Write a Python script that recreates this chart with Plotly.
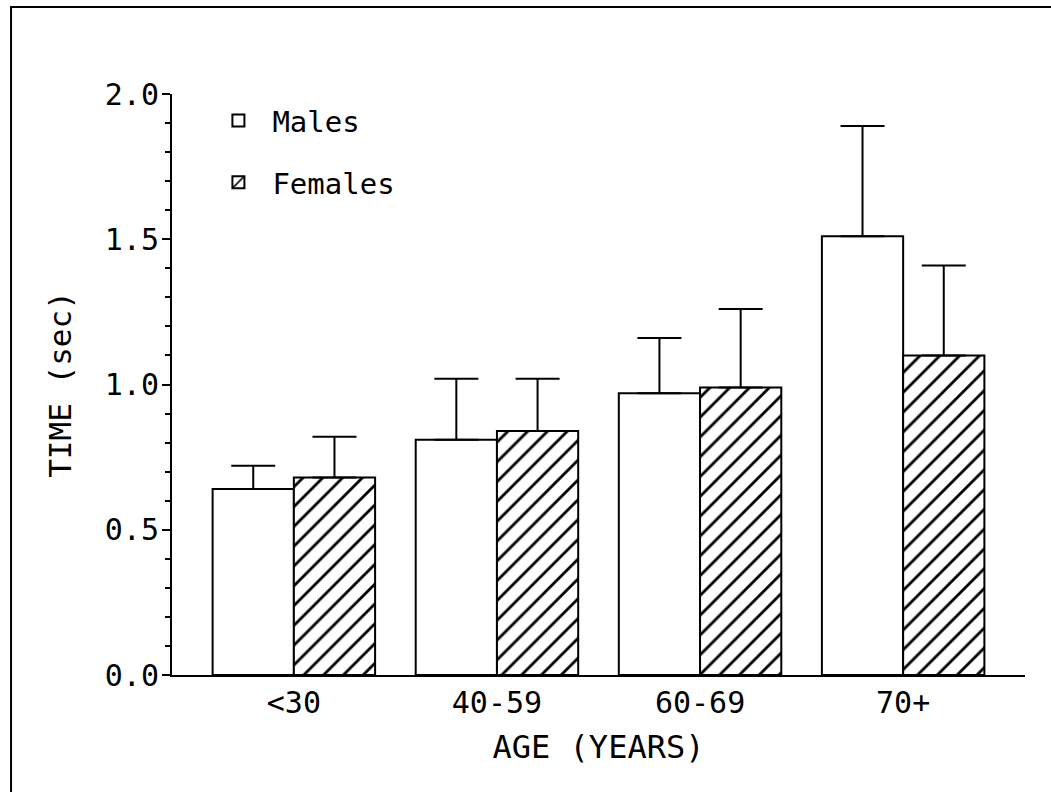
import plotly.graph_objects as go

categories = ["<30", "40-59", "60-69", "70+"]
males_mean = [0.64, 0.81, 0.97, 1.51]
males_err = [0.08, 0.21, 0.19, 0.38]
females_mean = [0.68, 0.84, 0.99, 1.10]
females_err = [0.14, 0.18, 0.27, 0.31]
ytick_vals = [0.0, 0.5, 1.0, 1.5, 2.0]
ytick_text = ["0.0", "0.5", "1.0", "1.5", "2.0"]

FONT = "DejaVu Sans Mono, Liberation Mono, monospace"

fig = go.Figure()
fig.add_trace(go.Bar(
    name="Males", x=categories, y=males_mean,
    marker=dict(color="white", line=dict(color="black", width=2)),
    error_y=dict(type="data", symmetric=False, array=males_err,
                 arrayminus=[0] * len(males_err),
                 color="black", thickness=2, width=22),
    legendgroup="m",
))
fig.add_trace(go.Bar(
    name="Females", x=categories, y=females_mean,
    marker=dict(color="white", line=dict(color="black", width=2),
                pattern=dict(shape="/", fgcolor="black", fgopacity=1,
                             bgcolor="white", size=14, solidity=0.2)),
    error_y=dict(type="data", symmetric=False, array=females_err,
                 arrayminus=[0] * len(females_err),
                 color="black", thickness=2, width=22),
    legendgroup="f",
))

fig.update_layout(
    width=1051, height=792,
    margin=dict(l=172, r=26, t=94, b=117, autoexpand=False),
    paper_bgcolor="white", plot_bgcolor="white",
    barmode="group", bargap=0.2, bargroupgap=0,
    font=dict(family=FONT, color="black", size=30),
    showlegend=True,
    legend=dict(x=0.038, y=0.998, xanchor="left", yanchor="top",
                font=dict(family=FONT, size=29, color="black"),
                bgcolor="rgba(0,0,0,0)", tracegroupgap=21,
                itemwidth=58, traceorder="grouped"),
    shapes=[dict(type="rect", xref="paper", yref="paper",
                 x0=-0.1887, x1=1.2, y0=-0.4, y1=1.1497,
                 line=dict(color="black", width=2), layer="below")],
)

fig.update_xaxes(
    range=[-0.6, 3.6], showline=True, linecolor="black", linewidth=2,
    ticks="", showgrid=False, zeroline=False,
    tickfont=dict(family=FONT, size=30), ticklabelstandoff=0,
    title=dict(text="AGE (YEARS)", font=dict(family=FONT, size=32), standoff=17),
)
fig.update_yaxes(
    range=[0, 2.0], showline=True, linecolor="black", linewidth=2,
    tickmode="array", tickvals=ytick_vals, ticktext=ytick_text,
    ticks="outside", ticklen=8, tickwidth=2, tickcolor="black",
    minor=dict(dtick=0.1, ticks="outside", ticklen=5, tickwidth=1.5, tickcolor="black", showgrid=False),
    showgrid=False, zeroline=False,
    tickfont=dict(family=FONT, size=30), ticklabelstandoff=-3,
    title=dict(text="TIME (sec)", font=dict(family=FONT, size=31), standoff=24),
)

fig.write_html("out.html")
